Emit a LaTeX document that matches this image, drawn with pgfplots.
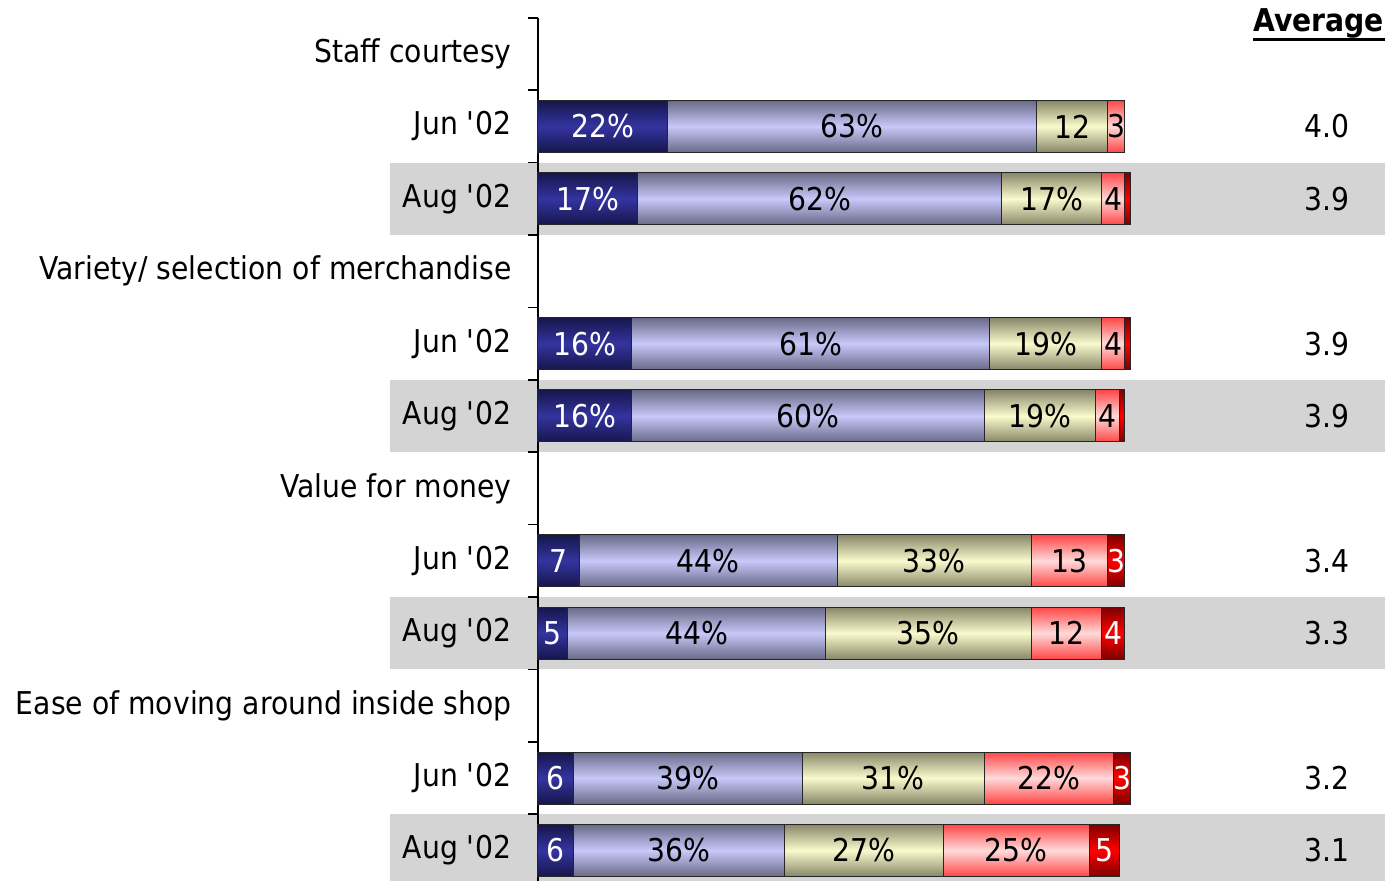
\documentclass[border=0pt]{standalone}
\usepackage{pgfplots}
\pgfplotsset{compat=1.18}
\usepackage{pgfplotstable}
\usepackage{fontspec}
\setmainfont{DejaVu Sans}[FakeStretch=0.9]

\definecolor{bandgray}{RGB}{212,212,212}
\definecolor{aE}{RGB}{22,22,75}\definecolor{aM}{RGB}{52,52,160}
\definecolor{bE}{RGB}{105,105,135}\definecolor{bM}{RGB}{200,200,250}
\definecolor{cE}{RGB}{135,135,105}\definecolor{cM}{RGB}{250,250,205}
\definecolor{dE}{RGB}{255,70,70}\definecolor{dM}{RGB}{255,218,218}
\definecolor{eE}{RGB}{125,0,0}\definecolor{eM}{RGB}{255,0,0}

% rows numbered from the top (0 = first line)
\pgfplotstableread{
row a b c d e
1 22 63 12 3 0
2 17 62 17 4 1
4 16 61 19 4 1
5 16 60 19 4 1
7 7 44 33 13 3
8 5 44 35 12 4
10 6 39 31 22 3
11 6 36 27 25 5
}\bars

\pgfplotstableread{
row ax avg
1 134.4 4.0
2 134.4 3.9
4 134.4 3.9
5 134.4 3.9
7 134.4 3.4
8 134.4 3.3
10 134.4 3.2
11 134.4 3.1
}\avgs

\newcommand\labfmt[1]{\ifnum#1>14\relax #1\%\else\ifnum#1>1\relax #1\fi\fi}
\newcommand\q{\textquotesingle}

\pgfplotsset{
  common/.style={x=2.935pt, y=36.2pt, xmin=0, xmax=144.3, ymin=-0.5, ymax=11.5,
    y dir=reverse, clip=false},
  seg/.style 2 args={draw=black!85, line width=0.5pt, top color=#1, bottom color=#1, middle color=#2},
  lab/.style 2 args={nodes near coords={\labfmt{#1}},
    every node near coord/.append style={anchor=center, inner sep=0pt, text=#2}},
}

\begin{document}
\fontsize{15.7}{18.8}\selectfont
\begin{tikzpicture}
% background bands and averages
\begin{axis}[common, hide axis]
  \fill[bandgray] (axis cs:-25.2,1.5) rectangle (axis cs:144.3,2.5);
  \fill[bandgray] (axis cs:-25.2,4.5) rectangle (axis cs:144.3,5.5);
  \fill[bandgray] (axis cs:-25.2,7.5) rectangle (axis cs:144.3,8.5);
  \fill[bandgray] (axis cs:-25.2,10.5) rectangle (axis cs:144.3,11.5);
  \addplot[draw=none, mark=none, nodes near coords, point meta=explicit symbolic,
    every node near coord/.append style={anchor=center, text=black}]
    table[x=ax, y=row, meta=avg] \avgs;
  \node[font=\bfseries, anchor=center, inner sep=0pt] (avg) at (axis cs:133,-0.42) {Average};
  \draw[line width=1.4pt] ([yshift=-4pt]avg.base west) -- ([yshift=-4pt]avg.base east);
  \coordinate (bbsw) at (axis cs:-91.65,11.42);
  \coordinate (bbne) at (axis cs:145.15,-0.746);
\end{axis}

% visible y axis with row labels
\begin{axis}[common, axis x line=none, axis y line*=left, xtick=\empty,
  ytick={0,...,11},
  yticklabels={Staff courtesy, Jun \q02, Aug \q02, Variety/ selection of merchandise, Jun \q02, Aug \q02,
    Value for money, Jun \q02, Aug \q02, Ease of moving around inside shop, Jun \q02, Aug \q02},
  major tick length=0pt,
  extra y ticks={-0.5,0.5,...,11.5}, extra y tick labels={},
  extra y tick style={major tick length=5pt, tick align=outside},
  y axis line style={line width=0.75pt, black},
  tick style={line width=0.75pt, black},
  yticklabel style={anchor=east, inner sep=0pt, xshift=-13pt}]
  \addplot[draw=none, mark=none] coordinates {(0,0)};
\end{axis}

% bars, one axis per row so each bar carries its own shading
\foreach \r in {0,...,7}{
  \pgfplotstablegetelem{\r}{row}\of\bars \let\yy\pgfplotsretval
  \pgfplotstablegetelem{\r}{a}\of\bars \let\va\pgfplotsretval
  \pgfplotstablegetelem{\r}{b}\of\bars \let\vb\pgfplotsretval
  \pgfplotstablegetelem{\r}{c}\of\bars \let\vc\pgfplotsretval
  \pgfplotstablegetelem{\r}{d}\of\bars \let\vd\pgfplotsretval
  \pgfplotstablegetelem{\r}{e}\of\bars \let\ve\pgfplotsretval
  \begin{axis}[common, hide axis, xbar stacked, bar width=26pt]
    \addplot[seg={aE}{aM}, lab={\va}{white}] coordinates {(\va,\yy)};
    \addplot[seg={bE}{bM}, lab={\vb}{black}] coordinates {(\vb,\yy)};
    \addplot[seg={cE}{cM}, lab={\vc}{black}] coordinates {(\vc,\yy)};
    \addplot[seg={dE}{dM}, lab={\vd}{black}] coordinates {(\vd,\yy)};
    \addplot[seg={eE}{eM}, lab={\ve}{white}] coordinates {(\ve,\yy)};
  \end{axis}
}
\pgfresetboundingbox
\path[use as bounding box] (bbsw) rectangle (bbne);
\end{tikzpicture}
\end{document}
